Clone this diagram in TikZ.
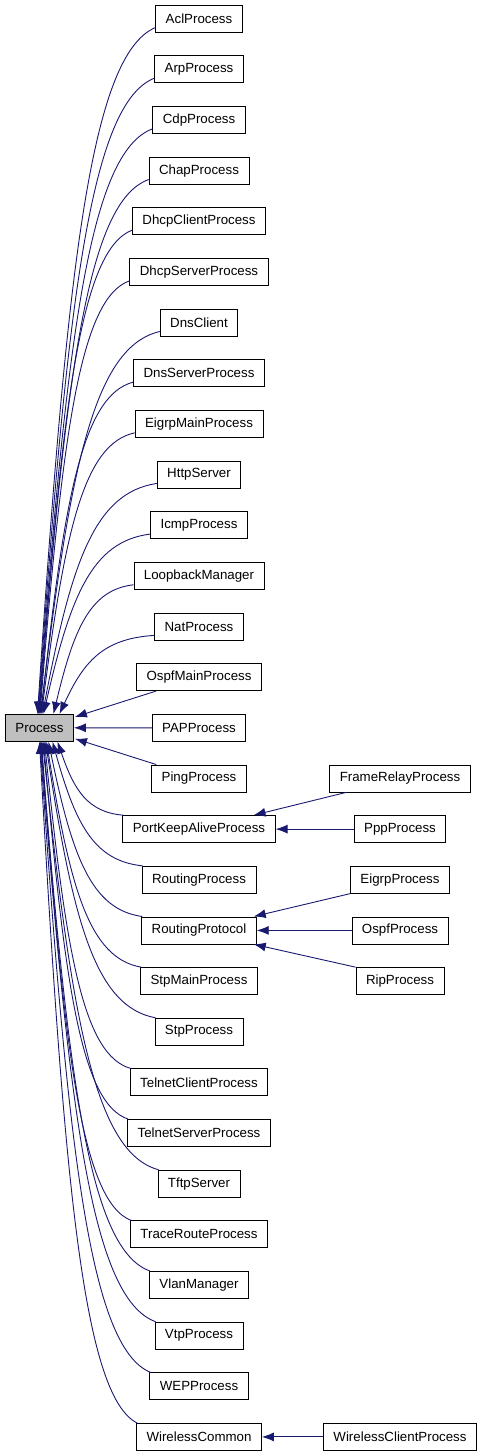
\documentclass[tikz,border=0pt]{standalone}
\usepackage{fontspec}
\setmainfont{Liberation Sans}
\usepackage{xcolor}
\usepackage{tikz}
\usetikzlibrary{arrows.meta, positioning, calc}
\definecolor{dox-navy}{HTML}{191970}
\definecolor{dox-gray}{HTML}{BFBFBF}

\begin{document}
\begin{tikzpicture}[
    x=1pt, y=-1pt,
    node distance=22.85pt and 60pt,
    classbox/.style={draw=black, fill=white, line width=0.8pt, minimum height=27pt, inner xsep=10pt, inner ysep=0pt, font=\fontsize{13.3}{16}\selectfont},
    basebox/.style={classbox, fill=dox-gray},
    link/.style={-{Latex[length=12pt, width=9pt]}, line width=0.9pt, draw=dox-navy}
]
    \useasboundingbox (0,0) rectangle (483,1456);

    % --- Base class ---
    \node (proc) [basebox] at (39.5,727.8) {Process};

    % --- Derived classes (one column) ---
    \node (acl) [classbox] at (199,18.7) {AclProcess};
    \node (arp) [classbox, below=of acl] {ArpProcess};
    \node (cdp) [classbox, below=of arp] {CdpProcess};
    \node (chap) [classbox, below=of cdp] {ChapProcess};
    \node (dhcpc) [classbox, below=of chap] {DhcpClientProcess};
    \node (dhcps) [classbox, below=of dhcpc] {DhcpServerProcess};
    \node (dnsc) [classbox, below=of dhcps] {DnsClient};
    \node (dnss) [classbox, below=of dnsc] {DnsServerProcess};
    \node (eigrpm) [classbox, below=of dnss] {EigrpMainProcess};
    \node (http) [classbox, below=of eigrpm] {HttpServer};
    \node (icmp) [classbox, below=of http] {IcmpProcess};
    \node (loopback) [classbox, below=of icmp] {LoopbackManager};
    \node (nat) [classbox, below=of loopback] {NatProcess};
    \node (ospfm) [classbox, below=of nat] {OspfMainProcess};
    \node (pap) [classbox, below=of ospfm] {PAPProcess};
    \node (ping) [classbox, below=of pap] {PingProcess};
    \node (pka) [classbox, below=of ping] {PortKeepAliveProcess};
    \node (routing) [classbox, below=of pka] {RoutingProcess};
    \node (rproto) [classbox, below=of routing] {RoutingProtocol};
    \node (stpm) [classbox, below=of rproto] {StpMainProcess};
    \node (stp) [classbox, below=of stpm] {StpProcess};
    \node (telnetc) [classbox, below=of stp] {TelnetClientProcess};
    \node (telnets) [classbox, below=of telnetc] {TelnetServerProcess};
    \node (tftp) [classbox, below=of telnets] {TftpServer};
    \node (trace) [classbox, below=of tftp] {TraceRouteProcess};
    \node (vlan) [classbox, below=of trace] {VlanManager};
    \node (vtp) [classbox, below=of vlan] {VtpProcess};
    \node (wep) [classbox, below=of vtp] {WEPProcess};
    \node (wcommon) [classbox, below=of wep] {WirelessCommon};

    % --- Second level ---
    \coordinate (rcol) at (400,0);
    \node (frame) [classbox] at (rcol |- ping) {FrameRelayProcess};
    \node (ppp) [classbox] at (rcol |- pka) {PppProcess};
    \node (eigrp) [classbox] at (rcol |- routing) {EigrpProcess};
    \node (ospf) [classbox] at (rcol |- rproto) {OspfProcess};
    \node (rip) [classbox] at (rcol |- stpm) {RipProcess};
    \node (wclient) [classbox] at (rcol |- wcommon) {WirelessClientProcess};

    % --- Connections to Process ---
    \foreach \child/\dx in {acl/-2, arp/-1.5, cdp/-1, chap/-0.5, dhcpc/0, dhcps/0.5, dnsc/1, dnss/1.5, eigrpm/2, http/3, icmp/4, loopback/14, nat/20}
        \draw [link] let \p1=($(\child.south west)+(0,-5)$), \p2=($(proc.north)+(\dx,0)$), \n1={\x1-\x2}, \n2={\y1-\y2} in
            (\p1) .. controls (\x1-0.55*\n1, \y1-0.04*\n2) and (\x2+0.25*\n1, \y2+0.65*\n2) .. (\p2);
    \foreach \child/\dx in {pka/18, routing/13, rproto/9, stpm/7, stp/6, telnetc/5, telnets/4, tftp/3, trace/2, vlan/1.5, vtp/1, wep/0.5, wcommon/0}
        \draw [link] let \p1=($(\child.north west)+(1,0)$), \p2=($(proc.south)+(\dx,0)$), \n1={\x1-\x2}, \n2={\y1-\y2} in
            (\p1) .. controls (\x1-0.55*\n1, \y1-0.04*\n2) and (\x2+0.25*\n1, \y2+0.65*\n2) .. (\p2);
    \draw [link] ($(ospfm.south west)+(20,0)$) -- ($(proc.north east)+(1,3)$);
    \draw [link] (pap) -- (proc);
    \draw [link] ($(ping.north west)+(5,0)$) -- ($(proc.south east)+(1,-3)$);

    % --- Second level connections ---
    \draw [link] ($(frame.south west)+(17,0)$) -- ($(pka.north east)+(-22,0)$);
    \draw [link] (ppp) -- (pka);
    \draw [link] (eigrp.south west) -- ($(rproto.north east)+(-3,0)$);
    \draw [link] (ospf) -- (rproto);
    \draw [link] (rip.north west) -- ($(rproto.south east)+(-3,0)$);
    \draw [link] (wclient) -- (wcommon);

\end{tikzpicture}
\end{document}
